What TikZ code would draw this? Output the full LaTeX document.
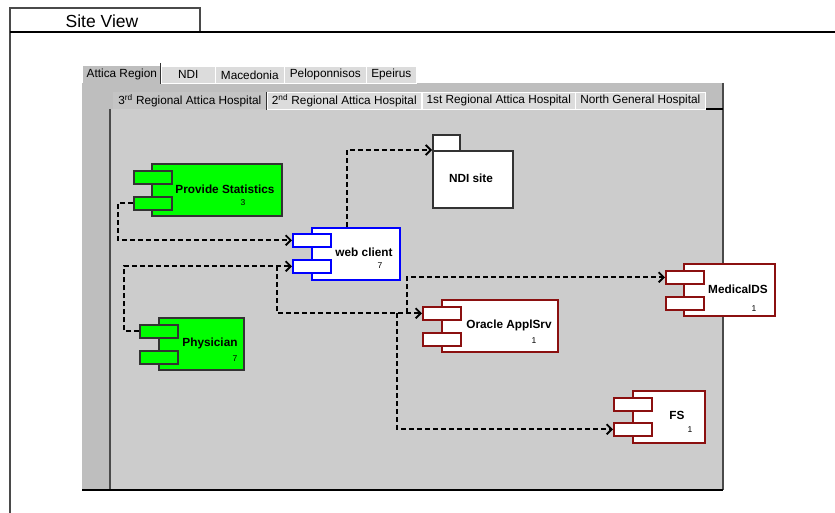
\documentclass[tikz,border=0pt]{standalone}
\usepackage{fontspec}
\setmainfont{Liberation Sans}
\usetikzlibrary{arrows.meta}

\definecolor{panelgray}{HTML}{BEBEBE}
\definecolor{areagray}{HTML}{CCCCCC}
\definecolor{tabgray}{HTML}{DCDCDC}
\definecolor{seltabgray}{HTML}{C4C4C4}
\definecolor{clientblue}{HTML}{0000FF}
\definecolor{serverred}{HTML}{8B1010}
\definecolor{actorgreen}{HTML}{00FF00}
\definecolor{edgegray}{HTML}{4A4A4A}

\tikzset{
  tab/.style={fill=tabgray, draw=white, line width=0.6pt, anchor=north west,
    minimum height=17pt, inner sep=0pt, font=\fontsize{11.8}{13}\selectfont},
  seltab/.style={tab, fill=seltabgray},
  comp/.style={draw, line width=1.6pt, anchor=north west, minimum height=52pt, inner sep=0pt},
  port/.style={comp, minimum width=38pt, minimum height=13pt},
  actor/.style={fill=actorgreen, draw=black!80},
  client/.style={fill=white, draw=clientblue},
  server/.style={fill=white, draw=serverred},
  compname/.style={font=\bfseries\fontsize{11.8}{13}\selectfont},
  compnum/.style={font=\fontsize{8.5}{10}\selectfont},
  link/.style={->, >={Straight Barb[length=5pt,width=10pt]}, line width=1.9pt,
    dash pattern=on 5pt off 3pt}
}

\begin{document}
\begin{tikzpicture}[x=1pt, y=-1pt]
  \useasboundingbox (0,0) rectangle (835,513);

  % outer frame
  \draw[edgegray, line width=1.6pt] (10,513) -- (10,8) -- (200,8) -- (200,32);
  \draw[line width=1.3pt] (10,32) -- (835,32);
  \node[font=\fontsize{17.5}{20}\selectfont] (siteview) at (102,21) {Site View};

  % region panel
  \fill[panelgray] (82,83) rectangle (723,490);
  \fill[areagray] (110,109) rectangle (723,490);
  \draw[edgegray, line width=1.3pt] (110,109) -- (110,490);
  \draw[edgegray, line width=1.3pt] (723,83) -- (723,490);
  \draw[line width=1.3pt] (82,490) -- (723,490);
  \draw[line width=1.3pt] (705,109) -- (723,109);

  % region tabs
  \node[seltab, fill=panelgray, draw=none, minimum width=77pt] (attica) at (83,66) {Attica Region};
  \node[tab, minimum width=54pt] (ndi) at (161,66) {NDI};
  \node[tab, minimum width=69pt] (macedonia) at (215,66) {Macedonia};
  \node[tab, minimum width=82pt] (pelop) at (284,66) {Peloponnisos};
  \node[tab, minimum width=50pt] (epeirus) at (366,66) {Epeirus};
  \draw[black!80, line width=1pt] ([yshift=3pt]attica.north east) -- (attica.south east);

  % hospital tabs
  \node[seltab, draw=none, minimum width=153pt] (hosp3) at (113,92) {3\textsuperscript{rd} Regional Attica Hospital};
  \node[tab, minimum width=154pt] (hosp2) at (267,92) {2\textsuperscript{nd} Regional Attica Hospital};
  \node[tab, minimum width=153pt] (hosp1) at (422,92) {1st Regional Attica Hospital};
  \node[tab, minimum width=130pt] (north) at (575,92) {North General Hospital};
  \draw[black!80, line width=1pt] (hosp3.north east) -- (hosp3.south east);

  % Provide Statistics
  \node[comp, actor, minimum width=130pt] (stats) at (151,163) {};
  \node[port, actor] (statsA) at (133,170) {};
  \node[port, actor] (statsB) at (133,196) {};
  \node[compname] (statsname) at (225,189) {Provide Statistics};
  \node[compnum] (statsnum) at (243,203) {3};

  % web client
  \node[comp, client, minimum width=88pt] (web) at (311,227) {};
  \node[port, client] (webA) at (292,233) {};
  \node[port, client] (webB) at (292,259) {};
  \node[compname] (webname) at (364,252) {web client};
  \node[compnum] (webnum) at (380,266) {7};

  % NDI site
  \node[comp, fill=white, draw=black!80, minimum width=27pt, minimum height=16pt] (ndisitetab) at (432,134) {};
  \node[comp, fill=white, draw=black!80, minimum width=80pt, minimum height=57pt] (ndisite) at (432,150) {};
  \node[compname] (ndiname) at (471,178) {NDI site};

  % Physician
  \node[comp, actor, minimum width=85pt] (phys) at (158,317) {};
  \node[port, actor] (physA) at (139,324) {};
  \node[port, actor] (physB) at (139,350) {};
  \node[compname] (physname) at (210,343) {Physician};
  \node[compnum] (physnum) at (235,359) {7};

  % Oracle ApplSrv
  \node[comp, server, minimum width=116pt] (oracle) at (441,299) {};
  \node[port, server] (oraA) at (422,306) {};
  \node[port, server] (oraB) at (422,332) {};
  \node[compname] (oraname) at (509,325) {Oracle ApplSrv};
  \node[compnum] (oranum) at (534,341) {1};

  % MedicalDS
  \node[comp, server, minimum width=91pt] (medical) at (683,263) {};
  \node[port, server] (medA) at (665,270) {};
  \node[port, server] (medB) at (665,296) {};
  \node[compname] (medname) at (738,289) {MedicalDS};
  \node[compnum] (mednum) at (754,309) {1};

  % FS
  \node[comp, server, minimum width=72pt] (fs) at (632,390) {};
  \node[port, server] (fsA) at (613,397) {};
  \node[port, server] (fsB) at (613,422) {};
  \node[compname] (fsname) at (677,415) {FS};
  \node[compnum] (fsnum) at (690,430) {1};

  % dependencies
  \draw[link] (statsB.west) -- ++(-15,0) |- (webA.west);
  \draw[link] (physA.west) -- ++(-15,0) |- (webB.west);
  \draw[link] ([xshift=-9pt]web.north) |- (ndisite.north west);
  \draw[link] ([xshift=-15pt]webB.west) |- (oraA.west);
  \draw[link] ([xshift=-15pt]oraA.west) |- (medA.west);
  \draw[link] ([xshift=-25pt]oraA.west) |- (fsB.west);
\end{tikzpicture}
\end{document}
